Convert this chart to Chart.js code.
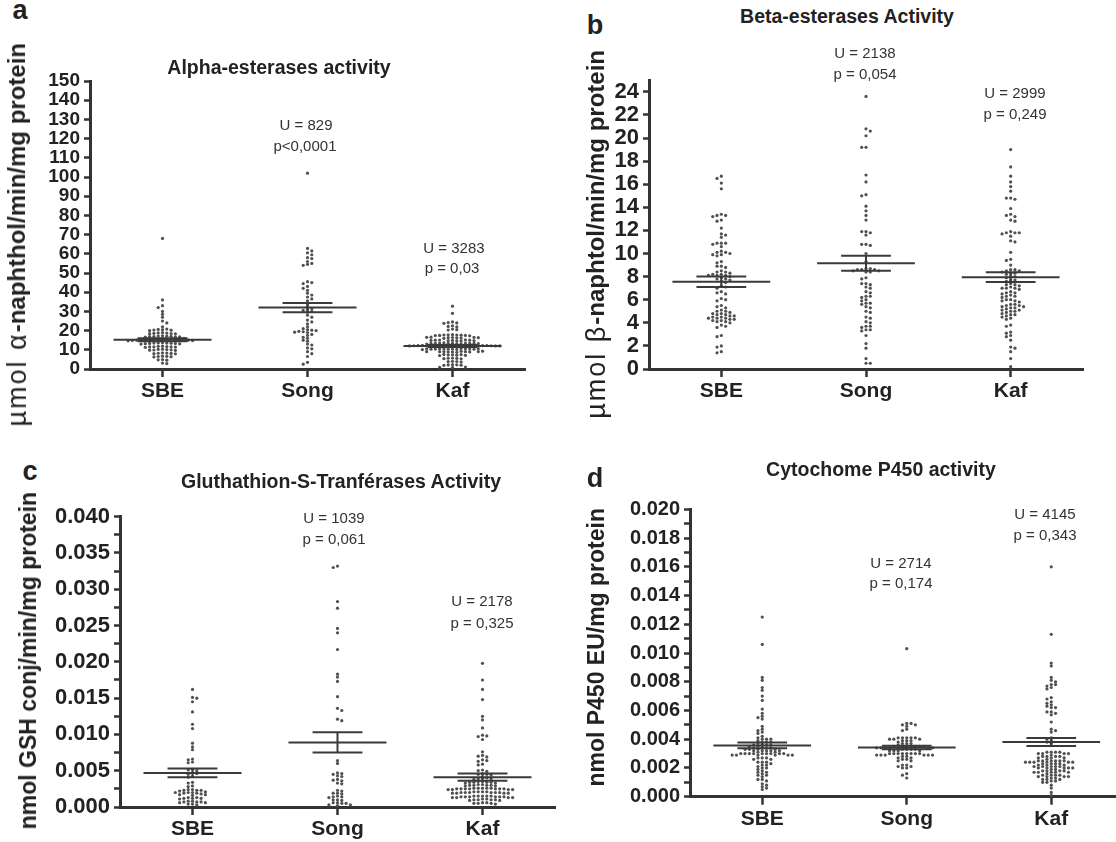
<!DOCTYPE html>
<html><head><meta charset="utf-8">
<script src="https://cdn.jsdelivr.net/npm/chart.js@4.4.1/dist/chart.umd.min.js"></script>
<style>
html,body{margin:0;padding:0;background:#fff;}
body{width:1116px;height:842px;overflow:hidden;position:relative;font-family:"Liberation Sans",Arial,sans-serif;}
canvas{position:absolute;}
.t{position:absolute;white-space:nowrap;line-height:1;transform:translate(-50%,-50%);color:#222;}
.letter{font-weight:bold;font-size:27px;}
.title{font-weight:bold;font-size:19.5px;}
.ann{font-size:15px;color:#333;}
.ylab{position:absolute;white-space:nowrap;line-height:1;writing-mode:vertical-rl;transform:rotate(180deg);font-weight:bold;font-size:23px;color:#222;}
.ylab.big{font-size:24px;}
.ylab .n{font-weight:normal;font-size:27px;letter-spacing:2px;}
</style>
</head><body>
<canvas id="ca" width="540" height="350" style="left:0px;top:60px"></canvas>
<canvas id="cb" width="550" height="350" style="left:556px;top:60px"></canvas>
<canvas id="cc" width="570" height="352" style="left:0px;top:490px"></canvas>
<canvas id="cd" width="540" height="360" style="left:600px;top:480px"></canvas>

<div class="t letter" style="left:20px;top:10px">a</div>
<div class="t letter" style="left:595px;top:25px">b</div>
<div class="t letter" style="left:30px;top:471px">c</div>
<div class="t letter" style="left:595px;top:478px">d</div>

<div class="t title" style="left:279px;top:68px">Alpha-esterases activity</div>
<div class="t title" style="left:847px;top:17px">Beta-esterases Activity</div>
<div class="t title" style="left:341px;top:482px">Gluthathion-S-Tranférases Activity</div>
<div class="t title" style="left:881px;top:470px">Cytochome P450 activity</div>

<div class="t ann" style="left:306px;top:124px">U = 829</div>
<div class="t ann" style="left:305px;top:145px">p&lt;0,0001</div>
<div class="t ann" style="left:454px;top:247px">U = 3283</div>
<div class="t ann" style="left:452px;top:267px">p = 0,03</div>
<div class="t ann" style="left:865px;top:52px">U = 2138</div>
<div class="t ann" style="left:865px;top:73px">p = 0,054</div>
<div class="t ann" style="left:1015px;top:92px">U = 2999</div>
<div class="t ann" style="left:1015px;top:113px">p = 0,249</div>
<div class="t ann" style="left:334px;top:517px">U = 1039</div>
<div class="t ann" style="left:334px;top:538px">p = 0,061</div>
<div class="t ann" style="left:482px;top:600px">U = 2178</div>
<div class="t ann" style="left:482px;top:622px">p = 0,325</div>
<div class="t ann" style="left:901px;top:562px">U = 2714</div>
<div class="t ann" style="left:901px;top:582px">p = 0,174</div>
<div class="t ann" style="left:1045px;top:513px">U = 4145</div>
<div class="t ann" style="left:1045px;top:534px">p = 0,343</div>

<div class="ylab big" style="left:4px;top:43px"><span class="n">µmol α</span>-naphthol/min/mg protein</div>
<div class="ylab big" style="left:583px;top:50px"><span class="n">µmol β</span>-naphtol/min/mg protein</div>
<div class="ylab" style="left:17px;top:492px">nmol GSH conj/min/mg protein</div>
<div class="ylab" style="left:585px;top:508px">nmol P450 EU/mg protein</div>

<script>
const CATS = ['SBE', 'Song', 'Kaf'];

// ---------- Panel a : Alpha-esterases ----------
const aSBE = [68, 36, 33, 32, 30, 28.5, 27, 25, 24, 22,
  20.8, 20.5, 20.2, 20.0, 20.6, 20.3,
  18.9, 18.7, 18.5, 18.3, 18.6, 18.4, 18.8,
  17.2, 17.0, 16.8, 16.9, 17.1, 16.7, 16.6, 17.3, 16.9,
  15.8, 15.6, 15.4, 15.2, 15.0, 14.9, 15.1, 15.3, 15.5, 15.7, 14.8, 15.0, 15.2, 16.0, 14.7, 15.4,
  13.5, 13.3, 13.1, 13.4, 13.2, 13.6, 13.0, 13.7, 13.3, 13.5,
  11.8, 11.6, 11.4, 11.7, 11.5, 11.9, 11.3, 11.6,
  10.1, 9.9, 9.8, 10.2, 10.0, 9.7, 10.3,
  8.4, 8.2, 8.0, 8.3, 8.1, 7.9,
  6.6, 6.4, 6.5, 6.3, 6.7,
  4.8, 4.6, 4.9,
  3.1, 2.8];
const aSong = [102, 62.8, 61.5, 60.5, 59.5, 58, 57.5, 56, 55, 54.5, 54, 45.5, 45, 44.5, 43, 42, 41, 39.5,
  38.5, 37.5, 36.5, 35.5, 34, 32.5, 31.5, 31, 30.5, 30, 29.5, 28, 27, 25.5, 24.5, 23.5, 22, 21, 20.5,
  20.2, 20, 19.6, 19.4, 19.2, 19, 18, 17.5, 16.5, 16, 15, 14.5, 13, 12.5, 11, 10.5, 9, 8, 6.5, 3.5, 2.5];
const aKaf = [32.7, 29.0,
  24.5, 24.0, 23.8, 24.2,
  22.5, 22.2, 22.0,
  20.8, 20.5, 20.3,
  17.9, 17.7, 17.5, 17.8, 17.6, 17.4, 17.3, 17.7, 17.5,
  16.5, 16.3, 16.1, 16.4, 16.2, 16.6, 16.0, 16.3, 16.5,
  15.1, 14.9, 14.7, 15.0, 14.8, 15.2, 14.6, 14.9, 15.0, 14.8,
  13.5, 13.3, 13.1, 13.4, 13.2, 13.6, 13.0, 13.4, 13.2, 13.3, 13.5, 13.3, 13.4,
  12.2, 12.0, 11.8, 12.1, 11.9, 12.3, 11.7, 12.0, 12.1, 11.9, 12.2, 11.8, 12.0, 11.9, 12.1, 12.0, 11.8, 12.2, 12.0,
  10.6, 10.4, 10.2, 10.5, 10.3, 10.7, 10.1, 10.4, 10.5, 10.3, 10.6, 10.4, 10.5, 10.3,
  9.2, 9.0, 8.8, 9.1, 8.9, 9.3, 8.7, 9.0, 9.1, 9.0, 8.9,
  7.5, 7.3, 7.1, 7.4, 7.2, 7.6, 7.0,
  5.7, 5.5, 5.3, 5.6, 5.4,
  4.0, 3.8, 3.6, 3.9,
  2.3, 2.1, 1.9, 2.2, 2.0,
  1.0, 0.8, 0.9];
const aMean = [15.2, 32.0, 12.0];
const aSem = [0.8, 2.4, 0.5];
const aTickLabels = ['0','10','20','30','40','50','60','70','80','90','100','110','120','130','140','150'];

// ---------- Panel b : Beta-esterases ----------
const bSBE = [16.7, 16.5, 16.1, 15.6,
  13.4, 13.3, 13.2, 13.3, 12.9, 12.8,
  12.2, 11.7, 11.6, 11.4,
  10.9, 10.9, 10.8, 10.9, 10.6,
  10.1, 10.2, 10.0, 10.1, 9.9, 9.9, 9.8,
  9.2, 9.3, 8.9, 8.9, 8.8,
  8.4, 8.5, 8.4, 8.3, 8.1, 8.1, 8.2, 8.0, 8.1, 8.2, 7.8, 7.8, 7.9, 7.7, 7.6, 7.5,
  7.1, 7.2, 7.0, 6.6, 6.7, 6.5, 6.0, 6.1, 5.9,
  5.4, 5.5, 5.3, 5.0, 5.1, 4.9, 5.0, 4.7, 4.8, 4.6, 4.7, 4.8, 4.6, 4.4, 4.5, 4.3, 4.4, 4.5, 4.3, 4.4, 4.2, 4.1, 4.2, 4.0, 4.1,
  3.7, 3.8, 3.6, 2.8, 2.9, 1.9, 2.0, 1.5, 1.4];
const bSong = [23.6, 20.8, 20.6, 20.2, 19.2, 19.2, 16.8, 16.2, 15.1, 15.0, 14.1, 13.7, 13.3, 12.9, 11.9, 11.9,
  11.8, 11.6, 10.8, 10.8, 10.7, 10.0, 9.3,
  8.7, 8.6, 8.6, 8.5, 8.6, 8.7, 8.5, 8.4, 8.4,
  7.9, 7.8, 7.4, 7.4, 7.3, 7.1, 7.0, 6.7, 6.6, 6.3, 6.3, 6.2, 6.0, 5.9, 5.7, 5.7, 5.6, 5.4, 5.3, 5.0, 4.9,
  4.5, 4.4, 4.1, 4.0, 3.7, 3.6, 3.7, 3.4, 3.4, 3.3, 2.9, 2.2, 1.8, 0.9, 0.5, 0.5];
const bKaf = [19.0, 17.5, 16.7, 16.2, 15.8, 15.4, 14.8, 14.7, 14.8, 13.9, 13.3, 13.2, 13.4, 12.9, 12.8,
  11.8, 11.8, 11.9, 11.7, 11.8, 11.5, 11.0, 11.1, 10.1, 9.4, 9.5, 9.0,
  8.5, 8.6, 8.5, 8.4, 8.6, 8.3, 8.2, 8.3, 8.0, 8.0, 7.9, 7.7, 7.7, 7.6,
  7.3, 7.4, 7.2, 7.3, 7.0, 7.0, 6.9, 7.1, 7.0, 6.6, 6.7, 6.5, 6.6, 6.3, 6.4, 6.2, 6.3, 5.9, 6.0, 5.8, 5.9, 6.0,
  5.5, 5.6, 5.4, 5.5, 5.6, 5.3, 5.2, 5.3, 5.4, 5.0, 5.1, 4.9, 5.0, 5.1, 4.7, 4.8, 4.6, 4.7, 4.4, 4.5, 4.3,
  3.8, 3.7, 3.2, 3.1, 2.9, 2.8, 2.5, 1.9, 1.8, 1.5, 0.9, 0.2];
const bMean = [7.55, 9.15, 7.95];
const bSem = [0.45, 0.65, 0.42];
const bTickLabels = ['0','2','4','6','8','10','12','14','16','18','20','22','24'];

// ---------- Panel c : Glutathion-S-transferases ----------
const cSBE = [0.0162, 0.0151, 0.0150, 0.0145, 0.0131, 0.0114, 0.0108, 0.0088, 0.0083, 0.0079, 0.0065, 0.0066, 0.0061, 0.0062,
  0.0051, 0.0052, 0.0050, 0.0046, 0.0047, 0.0045, 0.0042, 0.0041, 0.0033, 0.0034, 0.0029, 0.0028,
  0.0023, 0.0024, 0.0023, 0.0022, 0.0023, 0.0024, 0.0020, 0.0019, 0.0020, 0.0021, 0.0019, 0.0020,
  0.0017, 0.0016, 0.0017, 0.0018, 0.0012, 0.0013, 0.0012, 0.0011, 0.0012, 0.0013,
  0.0007, 0.0008, 0.0007, 0.0006, 0.0007, 0.0008, 0.0006, 0.0004, 0.0003, 0.0004];
const cSong = [0.0332, 0.0330, 0.0283, 0.0274, 0.0246, 0.0240, 0.0217, 0.0183, 0.0179, 0.0173, 0.0152, 0.0136, 0.0133,
  0.0121, 0.0119, 0.0064, 0.0060, 0.0047, 0.0046, 0.0045, 0.0043, 0.0042, 0.0038, 0.0037, 0.0036, 0.0033, 0.0032,
  0.0023, 0.0022, 0.0019, 0.0018, 0.0019, 0.0014, 0.0015, 0.0013, 0.0014, 0.0010, 0.0009, 0.0010,
  0.0006, 0.0005, 0.0006, 0.0005, 0.0003, 0.0002, 0.0003];
const cKaf = [0.0198, 0.0175, 0.0162, 0.0148, 0.0125, 0.0120, 0.0109, 0.0098, 0.0097, 0.0099, 0.0093, 0.0076, 0.0070, 0.0071,
  0.0069, 0.0064, 0.0065, 0.0063, 0.0059, 0.0058,
  0.0050, 0.0051, 0.0049, 0.0045, 0.0046, 0.0044, 0.0045, 0.0039, 0.0040, 0.0038, 0.0039, 0.0040,
  0.0034, 0.0035, 0.0033, 0.0034, 0.0035, 0.0034, 0.0033, 0.0034, 0.0030, 0.0031, 0.0029, 0.0030, 0.0031, 0.0030, 0.0030, 0.0029,
  0.0025, 0.0026, 0.0024, 0.0025, 0.0026, 0.0024, 0.0025, 0.0026, 0.0025, 0.0024, 0.0025, 0.0026, 0.0025, 0.0024, 0.0026, 0.0025,
  0.0020, 0.0021, 0.0019, 0.0020, 0.0021, 0.0019, 0.0020, 0.0021, 0.0020, 0.0019, 0.0020, 0.0021, 0.0019, 0.0020,
  0.0014, 0.0015, 0.0013, 0.0014, 0.0015, 0.0013, 0.0014, 0.0015, 0.0014, 0.0013, 0.0014, 0.0015, 0.0014, 0.0015, 0.0013,
  0.0010, 0.0009, 0.0010, 0.0011, 0.0010, 0.0009, 0.0010, 0.0011,
  0.0005, 0.0006, 0.0004, 0.0005, 0.0006, 0.0005];
const cMean = [0.0047, 0.0089, 0.0041];
const cSem = [0.0006, 0.0014, 0.0005];
const cTickLabels = ['0.000','0.005','0.010','0.015','0.020','0.025','0.030','0.035','0.040'];

// ---------- Panel d : Cytochrome P450 ----------
const dSBE = [0.0125, 0.0106, 0.0083, 0.0081, 0.0076, 0.0074, 0.0070, 0.0067, 0.0061, 0.0058, 0.0056, 0.0054, 0.0055,
  0.0049, 0.0047, 0.0046, 0.0045, 0.0044,
  0.0042, 0.0041, 0.0040, 0.0040, 0.0039, 0.0040,
  0.0038, 0.0038, 0.0037, 0.0038, 0.0036, 0.0036, 0.0035, 0.0036, 0.0035, 0.0036,
  0.0034, 0.0034, 0.0033, 0.0034, 0.0033, 0.0034, 0.0033, 0.0032, 0.0032, 0.0031, 0.0032, 0.0031, 0.0032, 0.0033, 0.0032,
  0.0030, 0.0030, 0.0029, 0.0030, 0.0029, 0.0030, 0.0029, 0.0030, 0.0029, 0.0030, 0.0029, 0.0030, 0.0030, 0.0029, 0.0030,
  0.0027, 0.0027, 0.0026, 0.0027, 0.0026, 0.0024, 0.0024, 0.0023, 0.0024, 0.0022, 0.0022, 0.0021, 0.0020, 0.0020,
  0.0019, 0.0018, 0.0017, 0.0017, 0.0016, 0.0015, 0.0015, 0.0014, 0.0012, 0.0012, 0.0011, 0.0009, 0.0008, 0.0007,
  0.0006, 0.0005];
const dSong = [0.0103, 0.0051, 0.0051, 0.0050, 0.0050, 0.0049, 0.0047, 0.0046,
  0.0041, 0.0041, 0.0040, 0.0041, 0.0040, 0.0041, 0.0040, 0.0041, 0.0039, 0.0039, 0.0038, 0.0039, 0.0037, 0.0037, 0.0036, 0.0037,
  0.0035, 0.0035, 0.0034, 0.0035, 0.0034, 0.0035, 0.0034, 0.0035, 0.0034, 0.0034, 0.0035, 0.0034, 0.0035, 0.0034,
  0.0033, 0.0032, 0.0033, 0.0032, 0.0033, 0.0032, 0.0033, 0.0032,
  0.0030, 0.0030, 0.0029, 0.0030, 0.0029, 0.0030, 0.0029, 0.0030, 0.0029, 0.0030, 0.0030, 0.0029, 0.0030, 0.0029,
  0.0028, 0.0027, 0.0028, 0.0027, 0.0026, 0.0025, 0.0026, 0.0025,
  0.0022, 0.0022, 0.0021, 0.0021, 0.0020, 0.0020, 0.0016, 0.0015, 0.0013];
const dKaf = [0.0160, 0.0113, 0.0093, 0.0091, 0.0083, 0.0081, 0.0080, 0.0078, 0.0078, 0.0077, 0.0076, 0.0075,
  0.0069, 0.0068, 0.0066, 0.0065, 0.0064, 0.0062, 0.0063, 0.0062, 0.0059, 0.0058, 0.0059, 0.0057, 0.0052,
  0.0047, 0.0045, 0.0046,
  0.0041, 0.0040, 0.0039, 0.0038, 0.0037,
  0.0031, 0.0031, 0.0030, 0.0031, 0.0030, 0.0029, 0.0030, 0.0031, 0.0030,
  0.0028, 0.0028, 0.0027, 0.0027, 0.0026, 0.0028, 0.0027, 0.0028,
  0.0025, 0.0024, 0.0025, 0.0024, 0.0025, 0.0024, 0.0025, 0.0024, 0.0025, 0.0024, 0.0025,
  0.0023, 0.0024, 0.0023, 0.0022, 0.0023, 0.0022, 0.0023, 0.0022,
  0.0021, 0.0020, 0.0021, 0.0020, 0.0019, 0.0020, 0.0021, 0.0019, 0.0020, 0.0021, 0.0020, 0.0021,
  0.0018, 0.0017, 0.0018, 0.0017, 0.0016, 0.0017, 0.0018, 0.0017, 0.0018, 0.0017,
  0.0015, 0.0014, 0.0015, 0.0014, 0.0013, 0.0014, 0.0013, 0.0015, 0.0014, 0.0015,
  0.0012, 0.0012, 0.0011, 0.0012, 0.0011, 0.0010, 0.0010,
  0.0008, 0.0006, 0.0003, 0.0001];
const dMean = [0.00357, 0.00342, 0.00381];
const dSem = [0.00020, 0.00012, 0.00028];
const dTickLabels = ['0.000','0.002','0.004','0.006','0.008','0.010','0.012','0.014','0.016','0.018','0.020'];

// ---------- common drawing ----------
const FONT = '"Liberation Sans", Arial, sans-serif';
const INK = '#333';
const DOT = '#505050';
const MEAN_HALF = 0.338, SEM_HALF = 0.172;

function build(cfg) {
  const groups = cfg.groups;
  const datasets = [];
  groups.forEach((vals, gi) => {
    datasets.push({ data: vals.map(v => ({ x: gi, y: v })), pointRadius: 1.6, pointHoverRadius: 1.6,
      pointBackgroundColor: DOT, pointBorderWidth: 0, showLine: false, clip: false, order: 1 });
  });
  const line = (pts) => ({ data: pts, showLine: true, borderColor: '#3a3a3a', borderWidth: 2,
    pointRadius: 0, pointHoverRadius: 0, clip: false, order: 0, tension: 0 });
  groups.forEach((vals, gi) => {
    const m = cfg.mean[gi], s = cfg.sem[gi];
    datasets.push(line([{ x: gi - MEAN_HALF, y: m }, { x: gi + MEAN_HALF, y: m }]));
    datasets.push(line([{ x: gi - SEM_HALF, y: m + s }, { x: gi + SEM_HALF, y: m + s }]));
    datasets.push(line([{ x: gi - SEM_HALF, y: m - s }, { x: gi + SEM_HALF, y: m - s }]));
    datasets.push(line([{ x: gi, y: m - s }, { x: gi, y: m + s }]));
  });
  const majors = cfg.tickLabels.map(parseFloat);
  let tickVals = [];
  majors.forEach((v, i) => {
    tickVals.push(v);
    if (cfg.minor && i < majors.length - 1) tickVals.push((v + majors[i + 1]) / 2);
  });
  const labelOf = (v) => {
    for (let i = 0; i < majors.length; i++) if (Math.abs(majors[i] - v) < 1e-9) return cfg.tickLabels[i];
    return '';
  };
  const chart = new Chart(document.getElementById(cfg.id), {
    type: 'scatter',
    data: { datasets },
    options: {
      responsive: false, animation: false, devicePixelRatio: 1,
      events: [],
      layout: { padding: { left: 0, top: cfg.padTop, right: cfg.padRight, bottom: 0 } },
      plugins: { legend: { display: false }, tooltip: { enabled: false }, title: { display: false } },
      scales: {
        x: {
          type: 'linear', min: -0.5, max: 2.5,
          afterBuildTicks: (s) => { s.ticks = CATS.map((c, i) => ({ value: i })); },
          afterFit: (s) => { s.height = cfg.xH; },
          ticks: { callback: (v) => CATS[Math.round(v)], font: { family: FONT, size: 21, weight: 'bold' },
            color: '#222', padding: 2, autoSkip: false, maxRotation: 0 },
          grid: { display: true, drawOnChartArea: false, drawTicks: true, tickLength: 8, tickWidth: 2.5, tickColor: INK },
          border: { display: true, width: 3, color: INK }
        },
        y: {
          type: 'linear', min: 0, max: cfg.yMax,
          afterBuildTicks: (s) => { s.ticks = tickVals.map(v => ({ value: v })); },
          afterFit: (s) => { s.width = cfg.yW; },
          ticks: { callback: (v) => labelOf(v), font: { family: FONT, size: cfg.tickSize, weight: 'bold' },
            color: '#222', padding: 4, autoSkip: false },
          grid: { display: true, drawOnChartArea: false, drawTicks: true, tickLength: 6, tickWidth: 2.5, tickColor: INK },
          border: { display: true, width: 3, color: INK }
        }
      }
    }
  });
  // row-wise dot spreading (scatter dot plot), computed through the chart's own scales
  const xs = chart.scales.x, ys = chart.scales.y;
  const unit = xs.getPixelForValue(1) - xs.getPixelForValue(0);
  const D = 4.3, ROW = 2.8;
  groups.forEach((vals, gi) => {
    const order = vals.map((v, k) => k).sort((a, b) => vals[b] - vals[a]);
    const placed = [];
    const off = new Array(vals.length).fill(0);
    let flip = 1;
    order.forEach(k => {
      const py = ys.getPixelForValue(vals[k]);
      const near = placed.filter(p => Math.abs(p.y - py) < ROW);
      const cands = [0];
      near.forEach(p => { cands.push(p.x + D, p.x - D); });
      cands.sort((a, b) => (Math.abs(a) - Math.abs(b)) || (flip * (b - a)));
      let xx = 0;
      for (const c of cands) {
        if (near.every(p => Math.abs(p.x - c) >= D - 0.01)) { xx = c; break; }
      }
      flip = -flip;
      placed.push({ x: xx, y: py });
      off[k] = xx;
    });
    chart.data.datasets[gi].data = vals.map((v, k) => ({ x: gi + off[k] / unit, y: v }));
  });
  chart.update('none');
  return chart;
}

build({ id: 'ca', groups: [aSBE, aSong, aKaf], mean: aMean, sem: aSem, tickLabels: aTickLabels, minor: false,
  yMax: 150, yW: 90, xH: 41, padTop: 21, padRight: 15, tickSize: 19 });
build({ id: 'cb', groups: [bSBE, bSong, bKaf], mean: bMean, sem: bSem, tickLabels: bTickLabels, minor: false,
  yMax: 25, yW: 93, xH: 41, padTop: 20.3, padRight: 23, tickSize: 22 });
build({ id: 'cc', groups: [cSBE, cSong, cKaf], mean: cMean, sem: cSem, tickLabels: cTickLabels, minor: true,
  yMax: 0.040, yW: 120, xH: 35, padTop: 26.7, padRight: 15, tickSize: 22 });
build({ id: 'cd', groups: [dSBE, dSong, dKaf], mean: dMean, sem: dSem, tickLabels: dTickLabels, minor: true,
  yMax: 0.020, yW: 90, xH: 43.3, padTop: 29.3, padRight: 16.5, tickSize: 20 });
</script>
</body></html>
